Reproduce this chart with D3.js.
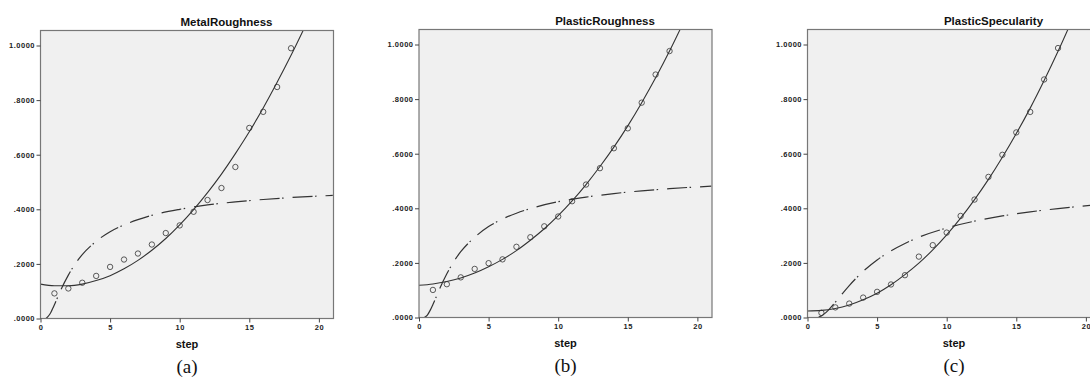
<!DOCTYPE html>
<html>
<head>
<meta charset="utf-8">
<script src="https://cdn.jsdelivr.net/npm/d3@7"></script>
<style>
  body { margin: 0; background: #fff; }
  text { font-family: "Liberation Sans", Arial, sans-serif; }
</style>
</head>
<body>
<div class="canva"></div>
<script>
// chart data
const titles = ['MetalRoughness', 'PlasticRoughness', 'PlasticSpecularity']
const captions = ['(a)', '(b)', '(c)']
const steps = [1, 2, 3, 4, 5, 6, 7, 8, 9, 10, 11, 12, 13, 14, 15, 16, 17, 18]

// observed points
const metalObs = [0.092, 0.110, 0.131, 0.156, 0.189, 0.216, 0.238, 0.271, 0.313, 0.341, 0.391, 0.434, 0.478, 0.555, 0.698, 0.757, 0.848, 0.990]
const plasticRoughObs = [0.101, 0.122, 0.147, 0.178, 0.199, 0.213, 0.259, 0.294, 0.334, 0.370, 0.426, 0.487, 0.547, 0.620, 0.693, 0.787, 0.890, 0.976]
const plasticSpecObs = [0.017, 0.037, 0.051, 0.073, 0.094, 0.121, 0.155, 0.223, 0.265, 0.311, 0.372, 0.432, 0.515, 0.596, 0.678, 0.753, 0.872, 0.987]

// solid fitted curve, read at each step
const fitX = [0, 1, 2, 3, 4, 5, 6, 7, 8, 9, 10, 11, 12, 13, 14, 15, 16, 17, 18, 19]
const metalFit = [0.126, 0.120, 0.120, 0.126, 0.139, 0.157, 0.182, 0.213, 0.250, 0.293, 0.343, 0.399, 0.461, 0.529, 0.604, 0.684, 0.771, 0.865, 0.964, 1.069]
const plasticRoughFit = [0.118, 0.123, 0.132, 0.145, 0.163, 0.186, 0.213, 0.245, 0.283, 0.325, 0.373, 0.427, 0.487, 0.553, 0.624, 0.702, 0.787, 0.878, 0.976, 1.081]
const plasticSpecFit = [0.024, 0.026, 0.033, 0.046, 0.065, 0.089, 0.120, 0.157, 0.199, 0.248, 0.303, 0.364, 0.432, 0.506, 0.587, 0.674, 0.767, 0.868, 0.975, 1.089]

// dash-dot curve
const metalSX = [0.4, 0.6, 0.75, 0.9, 1, 1.25, 1.5, 2, 2.5, 3, 4, 5, 6, 7, 8, 10, 12, 14, 16, 18, 21]
const metalS = [0.000, 0.011, 0.023, 0.039, 0.050, 0.080, 0.109, 0.159, 0.201, 0.234, 0.283, 0.318, 0.343, 0.362, 0.378, 0.400, 0.416, 0.427, 0.436, 0.443, 0.451]
const plasticRoughSX = [0.4, 0.6, 0.8, 1, 1.25, 1.5, 2, 2.5, 3, 4, 5, 6, 7, 8, 10, 12, 14, 16, 18, 21]
const plasticRoughS = [0.001, 0.009, 0.026, 0.048, 0.077, 0.107, 0.160, 0.205, 0.241, 0.294, 0.333, 0.361, 0.382, 0.399, 0.424, 0.441, 0.454, 0.464, 0.472, 0.481]
const plasticSpecSX = [0.8, 1, 1.25, 1.5, 2, 2.5, 3, 4, 5, 6, 7, 8, 10, 12, 14, 16, 18, 21]
const plasticSpecS = [0.002, 0.006, 0.015, 0.027, 0.056, 0.087, 0.117, 0.169, 0.211, 0.244, 0.271, 0.294, 0.328, 0.353, 0.372, 0.387, 0.399, 0.414]

const xTicks = [0, 5, 10, 15, 20]
const yTicks = [0, 0.2, 0.4, 0.6, 0.8, 1.0]

const panels = [
  { obs: metalObs, fit: metalFit, sx: metalSX, s: metalS, left: 40.5, top: 30.5 },
  { obs: plasticRoughObs, fit: plasticRoughFit, sx: plasticRoughSX, s: plasticRoughS, left: 419, top: 29.5 },
  { obs: plasticSpecObs, fit: plasticSpecFit, sx: plasticSpecSX, s: plasticSpecS, left: 807.5, top: 29.5 }
]

const W = 293, H = 288
const ink = '#333'

const svg = d3.select('.canva').append('svg')
    .attr('width', 1090)
    .attr('height', 383)

const x = d3.scaleLinear().domain([0, 21.05]).range([0, W])
const y = d3.scaleLinear().domain([0, 1.055]).range([H, 0])
const fmt = d => d3.format('.4f')(d).replace(/^0/, '')

const line = d3.line()
    .x(d => x(d[0]))
    .y(d => y(d[1]))
    .curve(d3.curveMonotoneX)

panels.forEach((p, i) => {
  const g = svg.append('g').attr('transform', `translate(${p.left},${p.top})`)

  g.append('clipPath').attr('id', 'clip' + i)
    .append('rect').attr('width', W).attr('height', H)

  g.append('rect')
    .attr('width', W)
    .attr('height', H)
    .attr('fill', '#f0f0f0')

  const plot = g.append('g').attr('clip-path', `url(#clip${i})`)

  // dash-dot curve
  plot.append('path')
    .datum(d3.zip(p.sx, p.s))
    .attr('d', line)
    .attr('fill', 'none')
    .attr('stroke', ink)
    .attr('stroke-width', 1.2)
    .attr('stroke-dasharray', '20,2.5,1.5,9')

  // solid curve
  plot.append('path')
    .datum(d3.zip(fitX, p.fit))
    .attr('d', line)
    .attr('fill', 'none')
    .attr('stroke', ink)
    .attr('stroke-width', 1.1)

  plot.selectAll('circle')
    .data(d3.zip(steps, p.obs))
    .enter().append('circle')
    .attr('cx', d => x(d[0]))
    .attr('cy', d => y(d[1]))
    .attr('r', 2.7)
    .attr('fill', 'none')
    .attr('stroke', ink)
    .attr('stroke-width', 0.8)

  // frame
  g.append('rect')
    .attr('width', W)
    .attr('height', H)
    .attr('fill', 'none')
    .attr('stroke', '#777')
    .attr('stroke-width', 1.2)

  const yAxis = g.append('g')
    .call(d3.axisLeft(y).tickValues(yTicks).tickSize(4).tickPadding(1.5).tickFormat(fmt))
  const xAxis = g.append('g')
    .attr('transform', `translate(0,${H})`)
    .call(d3.axisBottom(x).tickValues(xTicks).tickSize(4).tickPadding(2))

  ;[yAxis, xAxis].forEach(a => {
    a.select('.domain').remove()
    a.selectAll('line').attr('stroke', '#444')
    a.selectAll('text')
      .attr('fill', '#222')
      .style('font-size', '7.5px')
      .style('font-weight', 'bold')
      .style('letter-spacing', '0.5px')
  })

  g.append('text')
    .text(titles[i])
    .attr('x', 186)
    .attr('y', -5)
    .attr('text-anchor', 'middle')
    .attr('fill', '#111')
    .style('font-size', '11.5px')
    .style('font-weight', 'bold')

  g.append('text')
    .text('step')
    .attr('x', W / 2)
    .attr('y', H + 29)
    .attr('text-anchor', 'middle')
    .attr('fill', '#111')
    .style('font-size', '11px')
    .style('font-weight', 'bold')

  g.append('text')
    .text(captions[i])
    .attr('x', W / 2)
    .attr('y', H + 54)
    .attr('text-anchor', 'middle')
    .attr('fill', '#111')
    .style('font-family', '"Liberation Serif", "Times New Roman", serif')
    .style('font-size', '19px')
})
</script>
</body>
</html>
